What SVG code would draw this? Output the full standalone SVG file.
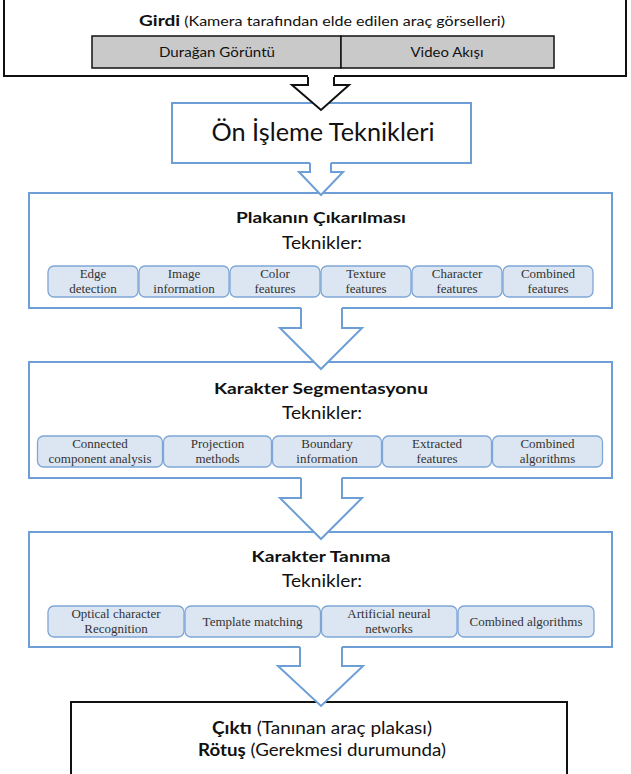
<svg xmlns="http://www.w3.org/2000/svg" width="631" height="774" viewBox="0 0 631 774">
<defs>
<style>
.blk{fill:#fff;stroke:#111;stroke-width:2}
.gray{fill:#c9c9c9;stroke:#111;stroke-width:1.5}
.blue{fill:#fff;stroke:#6d9fd6;stroke-width:2}
.tb{fill:#dce6f2;stroke:#7ea6d6;stroke-width:1.3}
.sans{font-family:Lato,"Liberation Sans",sans-serif;fill:#111;text-anchor:middle}
.b{font-weight:bold}
.ser{font-family:"Liberation Serif","Times New Roman",serif;font-size:13px;fill:#333;text-anchor:middle}
.af{fill:#fff;stroke:none}
.ab{fill:none;stroke:#111;stroke-width:2;stroke-linejoin:miter}
.ae{fill:none;stroke:#6d9fd6;stroke-width:2;stroke-linejoin:miter}
</style>
</defs>

<g id="girdi">
<rect class="blk" x="4" y="-1" width="622" height="77"/>
<text class="sans" x="322" y="26" textLength="366" lengthAdjust="spacingAndGlyphs"><tspan class="b" font-size="16">Girdi</tspan><tspan font-size="13.5"> (Kamera tarafından elde edilen araç görselleri)</tspan></text>
<rect class="gray" x="92" y="36" width="249" height="32"/>
<rect class="gray" x="341" y="36" width="213" height="32"/>
<text class="sans" x="217" y="57" font-size="14" textLength="116" lengthAdjust="spacingAndGlyphs">Durağan Görüntü</text>
<text class="sans" x="447" y="57" font-size="14" textLength="73" lengthAdjust="spacingAndGlyphs">Video Akışı</text>
</g>

<g id="on-isleme">
<rect class="blue" x="172" y="103" width="299" height="60"/>
<text class="sans" x="323" y="141" font-size="25" textLength="223" lengthAdjust="spacingAndGlyphs">Ön İşleme Teknikleri</text>
</g>

<g id="plaka">
<rect class="blue" x="29" y="193" width="583" height="115"/>
<text class="sans b" x="321" y="223" font-size="16" textLength="170" lengthAdjust="spacingAndGlyphs">Plakanın Çıkarılması</text>
<text class="sans" x="322" y="249" font-size="18" textLength="80" lengthAdjust="spacingAndGlyphs">Teknikler:</text>
<rect class="tb" x="48" y="266" width="90" height="31" rx="6"/>
<rect class="tb" x="139" y="266" width="90" height="31" rx="6"/>
<rect class="tb" x="230" y="266" width="90" height="31" rx="6"/>
<rect class="tb" x="321" y="266" width="90" height="31" rx="6"/>
<rect class="tb" x="412" y="266" width="90" height="31" rx="6"/>
<rect class="tb" x="503" y="266" width="90" height="31" rx="6"/>
<text class="ser" x="93" y="278">Edge</text><text class="ser" x="93" y="293">detection</text>
<text class="ser" x="184" y="278">Image</text><text class="ser" x="184" y="293">information</text>
<text class="ser" x="275" y="278">Color</text><text class="ser" x="275" y="293">features</text>
<text class="ser" x="366" y="278">Texture</text><text class="ser" x="366" y="293">features</text>
<text class="ser" x="457" y="278">Character</text><text class="ser" x="457" y="293">features</text>
<text class="ser" x="548" y="278">Combined</text><text class="ser" x="548" y="293">features</text>
</g>

<g id="segmentasyon">
<rect class="blue" x="29" y="362" width="583" height="116"/>
<text class="sans b" x="321" y="394" font-size="16" textLength="214" lengthAdjust="spacingAndGlyphs">Karakter Segmentasyonu</text>
<text class="sans" x="322" y="419" font-size="18" textLength="80" lengthAdjust="spacingAndGlyphs">Teknikler:</text>
<rect class="tb" x="37.5" y="436" width="125" height="31" rx="6"/>
<rect class="tb" x="163.5" y="436" width="108" height="31" rx="6"/>
<rect class="tb" x="272.5" y="436" width="109" height="31" rx="6"/>
<rect class="tb" x="382.5" y="436" width="109" height="31" rx="6"/>
<rect class="tb" x="492.5" y="436" width="110" height="31" rx="6"/>
<text class="ser" x="100" y="448">Connected</text><text class="ser" x="100" y="463">component analysis</text>
<text class="ser" x="217.5" y="448">Projection</text><text class="ser" x="217.5" y="463">methods</text>
<text class="ser" x="327" y="448">Boundary</text><text class="ser" x="327" y="463">information</text>
<text class="ser" x="437" y="448">Extracted</text><text class="ser" x="437" y="463">features</text>
<text class="ser" x="547.5" y="448">Combined</text><text class="ser" x="547.5" y="463">algorithms</text>
</g>

<g id="tanima">
<rect class="blue" x="29" y="532" width="583" height="115"/>
<text class="sans b" x="321" y="562" font-size="16" textLength="139" lengthAdjust="spacingAndGlyphs">Karakter Tanıma</text>
<text class="sans" x="322" y="587" font-size="18" textLength="80" lengthAdjust="spacingAndGlyphs">Teknikler:</text>
<rect class="tb" x="48" y="606" width="136" height="31" rx="6"/>
<rect class="tb" x="185" y="606" width="135.5" height="31" rx="6"/>
<rect class="tb" x="321.5" y="606" width="135.5" height="31" rx="6"/>
<rect class="tb" x="458" y="606" width="136" height="31" rx="6"/>
<text class="ser" x="116" y="618">Optical character</text><text class="ser" x="116" y="633">Recognition</text>
<text class="ser" x="252.5" y="625.5">Template matching</text>
<text class="ser" x="389" y="618">Artificial neural</text><text class="ser" x="389" y="633">networks</text>
<text class="ser" x="526" y="625.5">Combined algorithms</text>
</g>

<g id="cikti">
<rect class="blk" x="71" y="702" width="496" height="76"/>
<text class="sans" x="322" y="734" font-size="16.5" textLength="220" lengthAdjust="spacingAndGlyphs"><tspan class="b">Çıktı</tspan> (Tanınan araç plakası)</text>
<text class="sans" x="322" y="756" font-size="16.5" textLength="248" lengthAdjust="spacingAndGlyphs"><tspan class="b">Rötuş</tspan> (Gerekmesi durumunda)</text>
</g>

<g id="connectors">
<polygon class="af" points="308,75 334,75 334,85 349,85 321,110 292,85 308,85"/>
<polyline class="ab" points="308,77 308,85 292,85 321,110 349,85 334,85 334,77"/>
<polygon class="af" points="310,162 331,162 331,172 343,172 321,195 299,172 310,172"/>
<polyline class="ae" points="310,163 310,172 299,172 321,195 343,172 331,172 331,163"/>
<polygon class="af" points="301,307 342,307 342,328 362,328 321,369 280,328 301,328"/>
<polyline class="ae" points="301,308 301,328 280,328 321,369 362,328 342,328 342,308"/>
<polygon class="af" points="301,477 342,477 342,498 362,498 321,539 280,498 301,498"/>
<polyline class="ae" points="301,478 301,498 280,498 321,539 362,498 342,498 342,478"/>
<polygon class="af" points="300,646 342,646 342,666 363,666 321,706 278,666 300,666"/>
<polyline class="ae" points="300,647 300,666 278,666 321,706 363,666 342,666 342,647"/>
</g>
</svg>
